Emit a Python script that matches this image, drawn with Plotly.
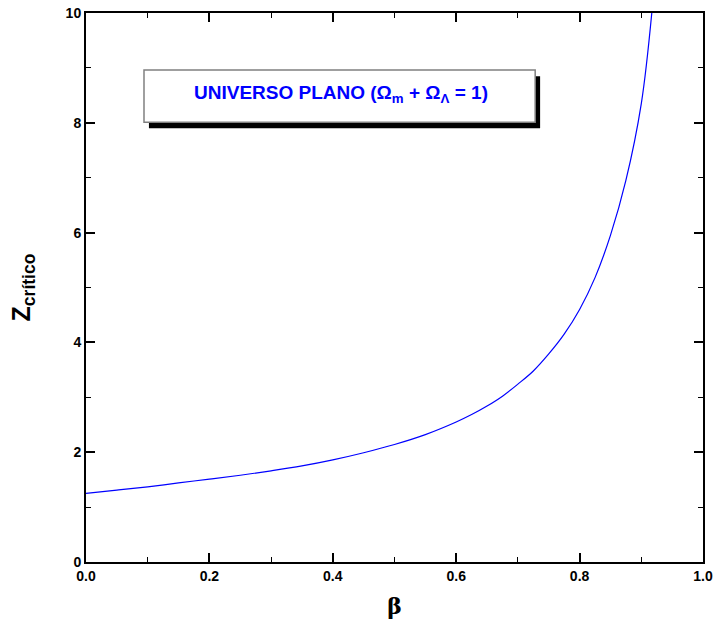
import plotly.graph_objects as go

beta = [0.0, 0.05, 0.10, 0.15, 0.20, 0.25, 0.30, 0.35, 0.40, 0.45, 0.50, 0.55,
        0.60, 0.625, 0.65, 0.675, 0.70, 0.725, 0.75, 0.775, 0.80, 0.825, 0.85,
        0.875, 0.90, 0.917]
z_critico = [1.25, 1.31, 1.37, 1.44, 1.51, 1.58, 1.66, 1.75, 1.86, 1.99, 2.14, 2.32,
             2.55, 2.685, 2.84, 3.02, 3.24, 3.48, 3.79, 4.15, 4.60, 5.18, 5.95,
             6.95, 8.35, 10.0]

x_ticks = [0.0, 0.2, 0.4, 0.6, 0.8, 1.0]
x_ticklabels = ["0.0", "0.2", "0.4", "0.6", "0.8", "1.0"]
y_ticks = [0, 2, 4, 6, 8, 10]
y_ticklabels = ["0", "2", "4", "6", "8", "10"]

box_text = "<b>UNIVERSO PLANO (Ω<sub>m</sub> + Ω<sub>Λ</sub> = 1)</b>"

fig = go.Figure()
fig.add_trace(go.Scatter(x=beta, y=z_critico, mode="lines",
                         line=dict(color="#0000ff", width=1.2, shape="spline", smoothing=1.0),
                         showlegend=False, hoverinfo="skip"))

axis_common = dict(showgrid=False, zeroline=False, showline=True, linecolor="black",
                   linewidth=2, mirror="allticks", ticks="inside", ticklen=9,
                   tickwidth=1.5, tickcolor="black", automargin=False,
                   tickfont=dict(family="Arial", size=14, color="black", weight="bold"))

fig.update_xaxes(range=[0, 1.0], tickvals=x_ticks, ticktext=x_ticklabels,
                 minor=dict(dtick=0.1, ticks="inside", ticklen=5, tickwidth=1.2,
                            tickcolor="black", showgrid=False),
                 title=dict(text="<b>β</b>", standoff=16,
                            font=dict(family="DejaVu Serif", size=22, color="black")),
                 **axis_common)
fig.update_yaxes(range=[0, 10], tickvals=y_ticks, ticktext=y_ticklabels,
                 minor=dict(dtick=1, ticks="inside", ticklen=5, tickwidth=1.2,
                            tickcolor="black", showgrid=False),
                 title=dict(text="<b>Z<sub>crítico</sub></b>", standoff=28,
                            font=dict(family="Arial", size=25, color="black")),
                 **axis_common)

# shadow
fig.add_shape(type="rect", xref="paper", yref="paper", x0=0.102, x1=0.736, y0=0.790, y1=0.885,
              fillcolor="black", line=dict(width=0), layer="above")
# box
fig.add_shape(type="rect", xref="paper", yref="paper", x0=0.094, x1=0.728, y0=0.801, y1=0.896,
              fillcolor="white", line=dict(color="#808080", width=1.5), layer="above")
fig.add_annotation(xref="paper", yref="paper", x=0.413, y=0.853, text=box_text,
                   showarrow=False, xanchor="center", yanchor="middle",
                   font=dict(family="Arial", size=19, color="#0000ff"))

fig.update_layout(width=714, height=642, paper_bgcolor="white", plot_bgcolor="white",
                  margin=dict(l=86, r=11, t=13, b=80))

fig.write_html("out.html")
